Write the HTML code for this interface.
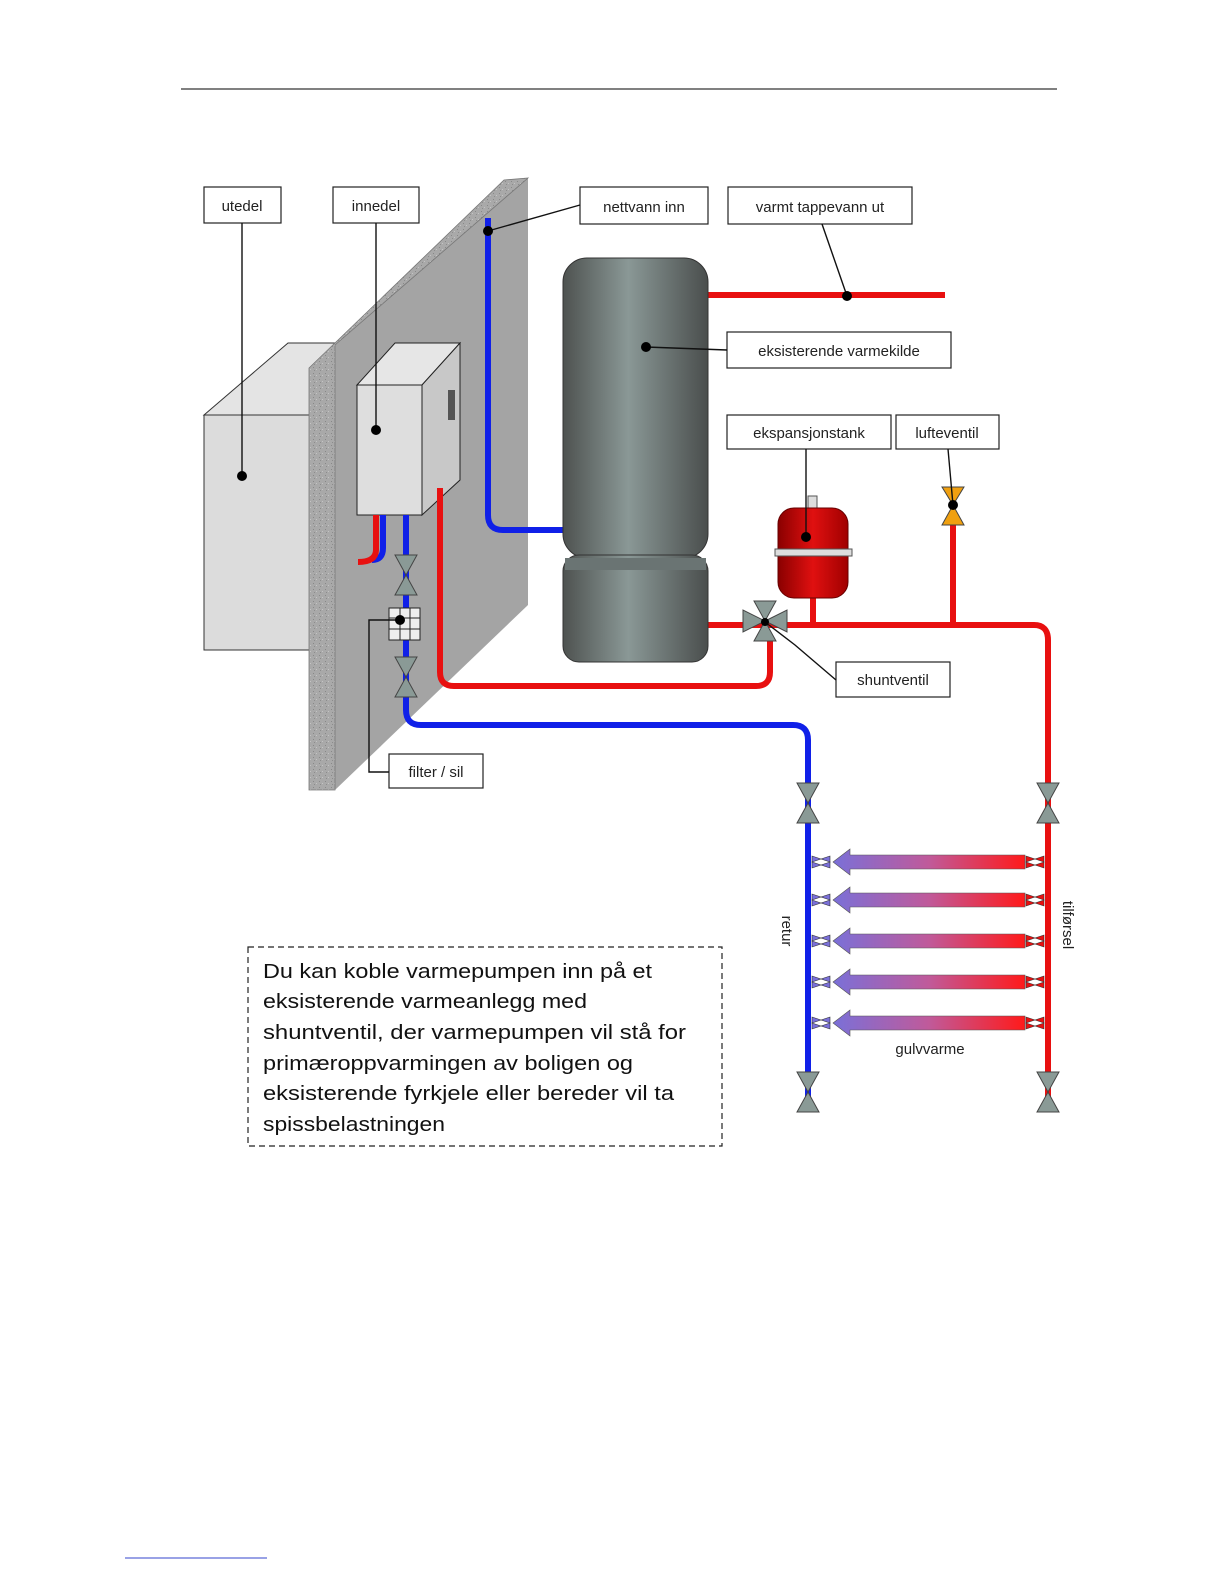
<!DOCTYPE html>
<html><head><meta charset="utf-8"><style>
html,body{margin:0;padding:0;background:#fff}
svg{display:block}
.lb{font-family:"Liberation Sans",sans-serif;font-size:15px;fill:#222}
.tx{font-family:"Liberation Sans",sans-serif;font-size:20px;fill:#111}
</style></head><body>
<svg width="1224" height="1584" viewBox="0 0 1224 1584" xmlns="http://www.w3.org/2000/svg">
<defs>
<linearGradient id="tank" x1="0" x2="1" y1="0" y2="0">
<stop offset="0" stop-color="#4e5250"/><stop offset="0.45" stop-color="#8a9896"/><stop offset="1" stop-color="#4a4e4d"/></linearGradient>
<linearGradient id="exp" x1="0" x2="1"><stop offset="0" stop-color="#8a0000"/><stop offset="0.5" stop-color="#e01010"/><stop offset="1" stop-color="#a00000"/></linearGradient>
<linearGradient id="fh" x1="0" x2="1"><stop offset="0" stop-color="#7a70d8"/><stop offset="0.5" stop-color="#c05a9a"/><stop offset="1" stop-color="#ff1a1a"/></linearGradient>
<pattern id="spk" width="6" height="6" patternUnits="userSpaceOnUse"><rect width="6" height="6" fill="#a9a9a9"/><rect x="1" y="1" width="1" height="1" fill="#888"/><rect x="4" y="3" width="1" height="1" fill="#c4c4c4"/><rect x="2" y="4" width="1" height="1" fill="#8c8c8c"/></pattern>
<g id="valv"><path d="M-11,-20 L11,-20 L0,0 Z M-11,20 L11,20 L0,0 Z" fill="#8a9a96" stroke="#444" stroke-width="1"/></g>
</defs>

<line x1="181" y1="89" x2="1057" y2="89" stroke="#000" stroke-width="1"/>
<line x1="125" y1="1558" x2="267" y2="1558" stroke="#3344cc" stroke-width="1"/>

<!-- utedel box -->
<polygon points="204,415 288,343 335,343 335,415" fill="#e4e4e4" stroke="#333" stroke-width="1"/>
<rect x="204" y="415" width="110" height="235" fill="#dcdcdc" stroke="#333" stroke-width="1"/>

<!-- wall -->
<polygon points="335,345 528,178 528,605 335,790" fill="#a4a4a4"/>
<polygon points="309,368 504,180 528,178 335,345 335,790 309,790" fill="url(#spk)" stroke="#777" stroke-width="0.8"/>

<!-- innedel box -->
<polygon points="357,385 395,343 460,343 422,385" fill="#e6e6e6" stroke="#222" stroke-width="1"/>
<polygon points="422,385 460,343 460,480 422,515" fill="#c8c8c8" stroke="#222" stroke-width="1"/>
<rect x="357" y="385" width="65" height="130" fill="#dedede" stroke="#222" stroke-width="1"/>
<rect x="448" y="390" width="7" height="30" fill="#555"/>

<g fill="none" stroke-linecap="butt">
<!-- blue nettvann -->
<path d="M488,218 V515 Q488,530 503,530 H565" stroke="#1020e8" stroke-width="6"/>
<!-- inner short pipes -->
<path d="M383,515 V548 Q383,560 372,560" stroke="#1020e8" stroke-width="6"/>
<path d="M376,515 V550 Q376,562 358,562" stroke="#e81010" stroke-width="6"/>
<!-- blue return -->
<path d="M406,515 V710 Q406,725 421,725 H793 Q808,725 808,740 V1100" stroke="#1020e8" stroke-width="6"/>
<!-- red from innedel to shunt -->
<path d="M440,488 V672 Q440,686 454,686 H756 Q770,686 770,672 V635" stroke="#e81010" stroke-width="6"/>
<!-- red from tank through shunt -->
<path d="M705,625 H1034 Q1048,625 1048,640 V1100" stroke="#e81010" stroke-width="6"/>
<path d="M953,625 V520" stroke="#e81010" stroke-width="6"/>
<path d="M813,596 V625" stroke="#e81010" stroke-width="6"/>
<!-- hot water out -->
<path d="M705,295 H945" stroke="#e81010" stroke-width="6"/>
</g>

<!-- tank -->
<rect x="563" y="258" width="145" height="300" rx="24" fill="url(#tank)" stroke="#333"/>
<rect x="563" y="555" width="145" height="107" rx="16" fill="url(#tank)" stroke="#333"/>
<rect x="565" y="558" width="141" height="12" fill="#6a7473"/>

<!-- expansion tank -->
<rect x="808" y="496" width="9" height="14" fill="#ddd" stroke="#555"/>
<rect x="778" y="508" width="70" height="90" rx="16" fill="url(#exp)" stroke="#600"/>
<rect x="775" y="549" width="77" height="7" fill="#ddd" stroke="#555"/>

<!-- lufteventil -->
<path d="M942,487 L964,487 L953,505 Z M942,525 L964,525 L953,505 Z" fill="#f0a010" stroke="#444"/>

<!-- shunt valve -->
<g transform="translate(765,621)">
<path d="M-22,-11 L-22,11 L0,0 Z M22,-11 L22,11 L0,0 Z M-11,-20 L11,-20 L0,0 Z M-11,20 L11,20 L0,0 Z" fill="#8a9a96" stroke="#444"/>
</g>

<!-- valves -->
<use href="#valv" x="406" y="575"/>
<use href="#valv" x="406" y="677"/>
<use href="#valv" x="808" y="803"/>
<use href="#valv" x="808" y="1092"/>
<use href="#valv" x="1048" y="803"/>
<use href="#valv" x="1048" y="1092"/>

<!-- filter -->
<rect x="389" y="608" width="31" height="32" fill="#eee" stroke="#222"/>
<path d="M389,618 H420 M389,629 H420 M400,608 V640 M410,608 V640" stroke="#222" stroke-width="1"/>

<!-- floor heating loops -->
<g>
<g id="loop">
<path d="M812,856 L830,862 L812,868 Z M830,856 L812,862 L830,868 Z" fill="#7a70d8" stroke="#333" stroke-width="0.6"/>
<path d="M833,862 L850,849 L850,855 L1025,855 L1025,869 L850,869 L850,875 Z" fill="url(#fh)" stroke="#555" stroke-width="0.6"/>
<path d="M1026,856 L1044,862 L1026,868 Z M1044,856 L1026,862 L1044,868 Z" fill="#e81010" stroke="#333" stroke-width="0.6"/>
</g>
<use href="#loop" y="38"/>
<use href="#loop" y="79"/>
<use href="#loop" y="120"/>
<use href="#loop" y="161"/>
</g>

<text x="930" y="1054" class="lb" text-anchor="middle">gulvvarme</text>
<text class="lb" transform="translate(782,931) rotate(90)" text-anchor="middle">retur</text>
<text class="lb" transform="translate(1063,925) rotate(90)" text-anchor="middle">tilførsel</text>

<!-- labels -->
<g fill="#fff" stroke="#222" stroke-width="1.2">
<rect x="204" y="187" width="77" height="36"/>
<rect x="333" y="187" width="86" height="36"/>
<rect x="580" y="187" width="128" height="37"/>
<rect x="728" y="187" width="184" height="37"/>
<rect x="727" y="332" width="224" height="36"/>
<rect x="727" y="415" width="164" height="34"/>
<rect x="896" y="415" width="103" height="34"/>
<rect x="836" y="662" width="114" height="35"/>
<rect x="389" y="754" width="94" height="34"/>
</g>
<text x="242" y="211" class="lb" text-anchor="middle">utedel</text>
<text x="376" y="211" class="lb" text-anchor="middle">innedel</text>
<text x="644" y="212" class="lb" text-anchor="middle">nettvann inn</text>
<text x="820" y="212" class="lb" text-anchor="middle">varmt tappevann ut</text>
<text x="839" y="356" class="lb" text-anchor="middle">eksisterende varmekilde</text>
<text x="809" y="438" class="lb" text-anchor="middle">ekspansjonstank</text>
<text x="947" y="438" class="lb" text-anchor="middle">lufteventil</text>
<text x="893" y="685" class="lb" text-anchor="middle">shuntventil</text>
<text x="436" y="777" class="lb" text-anchor="middle">filter / sil</text>

<!-- leaders -->
<g stroke="#111" stroke-width="1.4" fill="none">
<path d="M242,223 V476"/>
<path d="M376,223 V430"/>
<path d="M580,205 L488,231"/>
<path d="M822,224 L847,296"/>
<path d="M727,350 L646,347"/>
<path d="M806,449 V537"/>
<path d="M948,449 L953,505"/>
<path d="M836,680 L795,645 L765,622"/>
<path d="M389,772 H369 V620 H400"/>
</g>
<g fill="#000">
<circle cx="242" cy="476" r="5"/><circle cx="376" cy="430" r="5"/><circle cx="488" cy="231" r="5"/>
<circle cx="847" cy="296" r="5"/><circle cx="646" cy="347" r="5"/><circle cx="806" cy="537" r="5"/>
<circle cx="953" cy="505" r="5"/><circle cx="765" cy="622" r="4"/><circle cx="400" cy="620" r="5"/>
</g>

<!-- text box -->
<rect x="248" y="947" width="474" height="199" fill="none" stroke="#222" stroke-width="1.2" stroke-dasharray="6,4"/>
<text class="tx" x="263" y="978" textLength="389" lengthAdjust="spacingAndGlyphs">Du kan koble varmepumpen inn på et</text>
<text class="tx" x="263" y="1008" textLength="324" lengthAdjust="spacingAndGlyphs">eksisterende varmeanlegg med</text>
<text class="tx" x="263" y="1039" textLength="423" lengthAdjust="spacingAndGlyphs">shuntventil, der varmepumpen vil stå for</text>
<text class="tx" x="263" y="1070" textLength="370" lengthAdjust="spacingAndGlyphs">primæroppvarmingen av boligen og</text>
<text class="tx" x="263" y="1100" textLength="411" lengthAdjust="spacingAndGlyphs">eksisterende fyrkjele eller bereder vil ta</text>
<text class="tx" x="263" y="1131" textLength="182" lengthAdjust="spacingAndGlyphs">spissbelastningen</text>
</svg>
</body></html>
